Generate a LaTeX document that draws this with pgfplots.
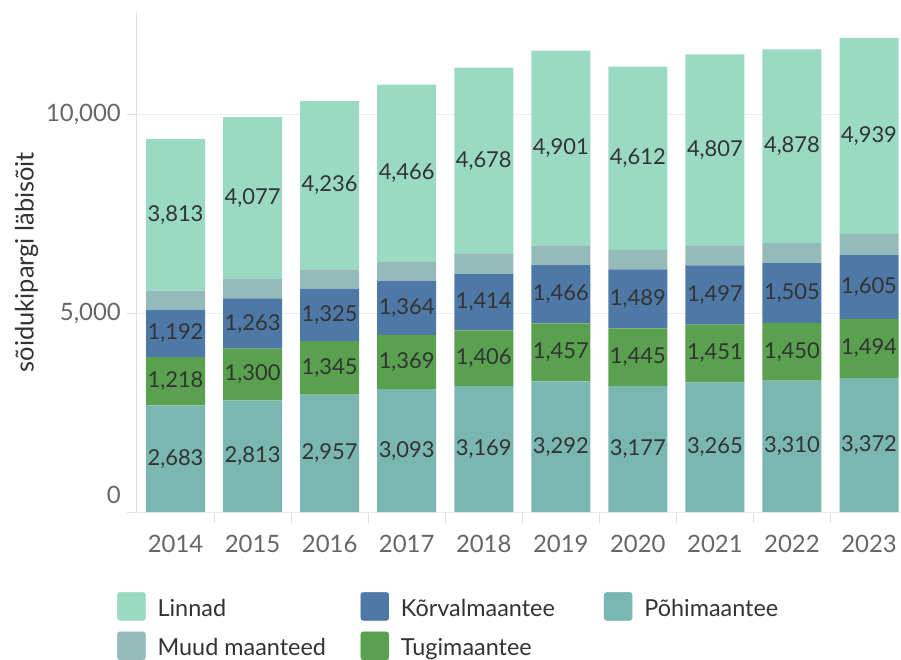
\documentclass[border=0pt]{standalone}
\usepackage{pgfplots}
\pgfplotsset{compat=1.18}
\usepackage{pgfplotstable}
\usepackage{fontspec}
\setmainfont{Lato}
\definecolor{linnad}{HTML}{9ADAC3}
\definecolor{korval}{HTML}{4E79A7}
\definecolor{pohi}{HTML}{79B7B0}
\definecolor{muud}{HTML}{94BABA}
\definecolor{tugi}{HTML}{59A14F}
\definecolor{ticklab}{HTML}{666666}
\definecolor{datalab}{HTML}{333333}
\definecolor{gridc}{HTML}{EDEDED}
\definecolor{axisc}{HTML}{E0E0E0}
\pgfplotstableread{
idx year pohi tugi korval muud linnad
0 2014 2683 1218 1192 480 3813
1 2015 2813 1300 1263 490 4077
2 2016 2957 1345 1325 480 4236
3 2017 3093 1369 1364 470 4466
4 2018 3169 1406 1414 520 4678
5 2019 3292 1457 1466 500 4901
6 2020 3177 1445 1489 490 4612
7 2021 3265 1451 1497 500 4807
8 2022 3310 1450 1505 505 4878
9 2023 3372 1494 1605 530 4939
}\data
\begin{document}
\begin{tikzpicture}
\path[use as bounding box] (-136bp,-148bp) rectangle (765bp,512bp);
\begin{axis}[
  scale only axis, width=765bp, height=500bp,
  xmin=-0.513, xmax=9.415, ymin=0, ymax=12590,
  ybar stacked, bar width=59bp,
  axis x line*=bottom, axis y line*=left,
  axis line style={-, draw=axisc, line width=0.8bp},
  tick align=outside,
  xtick={0,...,9},
  xticklabels={2014,2015,2016,2017,2018,2019,2020,2021,2022,2023},
  major x tick style={draw=none},
  extra x ticks={0.5,1.5,2.5,3.5,4.5,5.5,6.5,7.5,8.5},
  extra x tick labels={},
  extra x tick style={major x tick style={draw=axisc, line width=0.8bp}, major tick length=11bp},
  xticklabel style={font=\fontsize{24}{28}\selectfont, text=ticklab, inner sep=0pt, yshift=-14bp},
  ytick={5000,10000},
  yticklabels={{5,000},{10,000}},
  extra y ticks={0}, extra y tick labels={0},
  extra y tick style={yticklabel style={yshift=17bp}},
  major y tick style={draw=axisc, line width=0.8bp},
  major tick length=9bp,
  ymajorgrids, grid style={draw=gridc, line width=0.8bp},
  yticklabel style={font=\fontsize{24}{28}\selectfont, text=ticklab, inner sep=0pt, xshift=-6bp},
  ylabel={sõidukipargi läbisõit},
  every axis y label/.style={at={(axis description cs:-0.143,0.5)}, rotate=90, anchor=center, font=\fontsize{25.5}{28}\selectfont, text=datalab},
  /pgf/number format/.cd, fixed, precision=0, 1000 sep={,}, assume math mode=true, /pgfplots/.cd,
  every node near coord/.append style={anchor=center, font=\fontsize{22}{26}\selectfont, text=datalab},
  legend columns=3,
  legend cell align=left,
  legend style={at={(axis description cs:-0.02484,-0.16)}, anchor=north west, draw=none, fill=none, inner sep=0pt, row sep=11bp, column sep=0pt, font=\fontsize{23.5}{28}\selectfont, text=datalab, /tikz/every odd column/.append style={column sep=12bp}, nodes={inner sep=0pt}},
]
\addplot[fill=pohi, draw=none, forget plot, nodes near coords, point meta=rawy] table[x=idx,y=pohi]{\data};
\addplot[fill=tugi, draw=none, forget plot, nodes near coords, point meta=rawy] table[x=idx,y=tugi]{\data};
\addplot[fill=korval, draw=none, forget plot, nodes near coords, point meta=rawy] table[x=idx,y=korval]{\data};
\addplot[fill=muud, draw=none, forget plot] table[x=idx,y=muud]{\data};
\addplot[fill=linnad, draw=none, forget plot, nodes near coords, point meta=rawy] table[x=idx,y=linnad]{\data};
\addlegendimage{legend image code/.code={\fill[linnad, rounded corners=2.5bp] (0bp,-11.7bp) rectangle (28bp,16.3bp);}}
\addlegendentry{\makebox[203bp][l]{Linnad}}
\addlegendimage{legend image code/.code={\fill[korval, rounded corners=2.5bp] (0bp,-11.7bp) rectangle (28bp,16.3bp);}}
\addlegendentry{\makebox[203bp][l]{Kõrvalmaantee}}
\addlegendimage{legend image code/.code={\fill[pohi, rounded corners=2.5bp] (0bp,-11.7bp) rectangle (28bp,16.3bp);}}
\addlegendentry{\makebox[203bp][l]{Põhimaantee}}
\addlegendimage{legend image code/.code={\fill[muud, rounded corners=2.5bp] (0bp,-11.7bp) rectangle (28bp,16.3bp);}}
\addlegendentry{\makebox[203bp][l]{Muud maanteed}}
\addlegendimage{legend image code/.code={\fill[tugi, rounded corners=2.5bp] (0bp,-11.7bp) rectangle (28bp,16.3bp);}}
\addlegendentry{\makebox[203bp][l]{Tugimaantee}}
\end{axis}
\end{tikzpicture}
\end{document}
